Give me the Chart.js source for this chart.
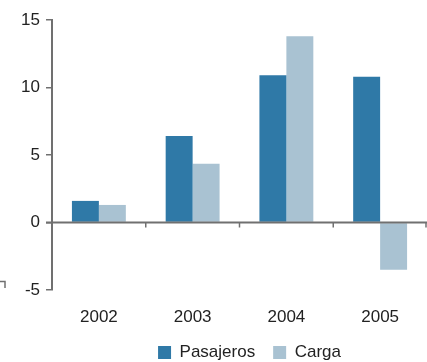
<!DOCTYPE html>
<html>
<head>
<meta charset="utf-8">
<script src="https://cdn.jsdelivr.net/npm/chart.js@4"></script>
<style>
  html, body { margin: 0; padding: 0; background: #fff; }
  #wrap { width: 427px; height: 362px; position: relative; }
</style>
</head>
<body>
<div id="wrap"><canvas id="c"></canvas></div>
<script>
const categories = ['2002', '2003', '2004', '2005'];
const pasajeros = [1.6, 6.4, 10.9, 10.8];
const carga = [1.3, 4.35, 13.8, -3.5];
const yTicks = [-5, 0, 5, 10, 15];

const FONT = '"Liberation Sans", Arial, Helvetica, sans-serif';
const AXIS = '#707070';

const zeroLinePlugin = {
  id: 'zeroLine',
  afterLayout(chart) {
    if (chart.legend) {
      chart.legend.left += 10;
      chart.legend.right += 10;
    }
  },
  afterDatasetsDraw(chart) {
    const { ctx, chartArea } = chart;
    const y = chart.scales.y.getPixelForValue(0);
    ctx.save();
    ctx.strokeStyle = AXIS;
    ctx.lineWidth = 2;
    ctx.beginPath();
    ctx.moveTo(chartArea.left - 6, y);
    ctx.lineTo(chartArea.right, y);
    ctx.stroke();
    ctx.lineWidth = 1.5;
    const n = categories.length;
    const w = (chartArea.right - chartArea.left) / n;
    for (let i = 1; i <= n; i++) {
      const x = Math.min(chartArea.left + i * w, chartArea.right - 1);
      ctx.beginPath();
      ctx.moveTo(x, y);
      ctx.lineTo(x, y + 5);
      ctx.stroke();
    }
    // small corner mark at bottom left
    ctx.beginPath();
    ctx.moveTo(0, 281.5);
    ctx.lineTo(5, 281.5);
    ctx.lineTo(5, 288);
    ctx.stroke();
    ctx.restore();
  }
};

new Chart(document.getElementById('c'), {
  type: 'bar',
  data: {
    labels: categories,
    datasets: [
      { label: 'Pasajeros', data: pasajeros, backgroundColor: '#2f79a7' },
      { label: 'Carga', data: carga, backgroundColor: '#a9c2d2' }
    ]
  },
  options: {
    responsive: true,
    maintainAspectRatio: false,
    animation: false,
    layout: { padding: { top: 20, right: 0, left: 0, bottom: -9 } },
    datasets: { bar: { categoryPercentage: 0.575, barPercentage: 1.0 } },
    plugins: {
      tooltip: { enabled: false },
      legend: {
        position: 'bottom',
        fullSize: false,
        labels: {
          font: { family: FONT, size: 17 },
          color: '#222',
          boxWidth: 13,
          boxHeight: 13,
          padding: 18,
          useBorderRadius: false
        }
      }
    },
    scales: {
      x: {
        grid: { display: false, drawTicks: false },
        border: { display: false },
        ticks: { font: { family: FONT, size: 17 }, color: '#222', padding: 17 },
        afterFit(s) { s.height = 36; }
      },
      y: {
        min: -5, max: 15,
        afterBuildTicks(s) { s.ticks = yTicks.map(v => ({ value: v })); },
        grid: { drawOnChartArea: false, drawTicks: true, tickLength: 6, color: AXIS, lineWidth: 1.5 },
        border: { display: true, color: AXIS, width: 2 },
        ticks: { font: { family: FONT, size: 17 }, color: '#222', padding: 6 },
        afterFit(s) { s.width = 52; }
      }
    }
  },
  plugins: [zeroLinePlugin]
});
</script>
</body>
</html>
